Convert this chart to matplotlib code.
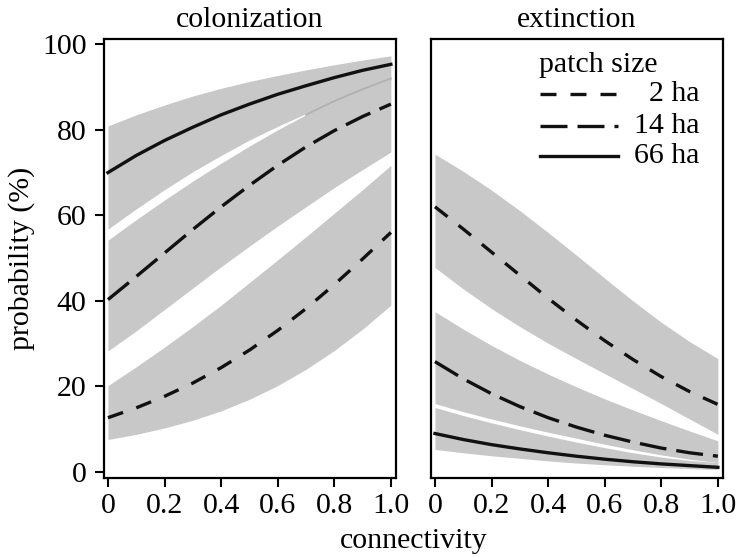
import matplotlib
matplotlib.use("Agg")
import matplotlib.pyplot as plt

plt.rcParams["font.family"] = ["Liberation Serif", "DejaVu Serif"]

# connectivity values where the curves were read
conn = [0.0, 0.1, 0.2, 0.3, 0.4, 0.5, 0.6, 0.7, 0.8, 0.9, 1.0]

# colonization probability (%) with confidence band
col_2_mean = [12.7, 15.0, 17.7, 20.8, 24.4, 28.5, 33.1, 38.2, 43.8, 49.8, 56.0]
col_2_low = [7.6, 8.8, 10.3, 12.1, 14.3, 17.0, 20.2, 24.0, 28.4, 33.4, 39.0]
col_2_up = [20.2, 24.6, 29.2, 34.0, 39.0, 44.3, 49.6, 55.0, 60.5, 66.0, 71.7]
col_14_mean = [40.3, 45.7, 51.2, 56.7, 62.0, 67.0, 71.7, 76.0, 79.8, 83.1, 86.0]
col_14_low = [28.3, 33.0, 38.0, 43.0, 48.0, 52.8, 57.5, 62.0, 66.5, 70.7, 74.8]
col_14_up = [54.2, 59.0, 63.6, 68.0, 72.2, 76.2, 80.0, 83.5, 86.7, 89.5, 92.0]
col_66_mean = [70.0, 74.0, 77.5, 80.6, 83.5, 86.0, 88.3, 90.3, 92.2, 93.9, 95.3]
col_66_low = [56.8, 61.5, 66.0, 70.2, 74.0, 77.6, 80.8, 83.8, 86.6, 89.2, 91.6]
col_66_up = [80.9, 83.5, 85.8, 87.9, 89.7, 91.3, 92.7, 94.0, 95.2, 96.3, 97.3]

# extinction probability (%) with confidence band
ext_2_mean = [62.0, 56.8, 51.4, 46.0, 40.6, 35.5, 30.7, 26.3, 22.3, 18.8, 15.8]
ext_2_low = [47.8, 42.8, 38.2, 34.0, 30.1, 26.5, 23.0, 19.5, 16.0, 12.4, 8.8]
ext_2_up = [74.3, 70.3, 65.9, 61.1, 56.0, 50.7, 45.3, 40.0, 35.0, 30.5, 26.5]
ext_14_mean = [25.8, 21.8, 18.3, 15.3, 12.7, 10.5, 8.6, 7.0, 5.6, 4.5, 3.7]
ext_14_low = [16.0, 14.1, 12.4, 10.8, 9.3, 7.9, 6.5, 5.2, 4.0, 3.0, 2.2]
ext_14_up = [37.5, 33.4, 29.6, 26.1, 22.9, 19.9, 17.1, 14.5, 12.0, 9.6, 7.3]
ext_66_mean = [9.0, 7.6, 6.4, 5.4, 4.5, 3.7, 3.0, 2.4, 1.9, 1.5, 1.1]
ext_66_low = [5.3, 4.5, 3.8, 3.2, 2.6, 2.1, 1.7, 1.35, 1.05, 0.8, 0.6]
ext_66_up = [15.1, 13.2, 11.5, 9.9, 8.4, 7.0, 5.7, 4.5, 3.5, 2.7, 2.2]

patch_labels = ["2 ha", "14 ha", "66 ha"]
x_ticks = [0, 0.2, 0.4, 0.6, 0.8, 1.0]
x_tick_labels = ["0", "0.2", "0.4", "0.6", "0.8", "1.0"]
y_ticks = [0, 20, 40, 60, 80, 100]

band_color = "#c8c8c8"
overlap_color = "#b0b0b0"
line_color = "#111111"
lw = 2.4
fs = 21.5
styles = [(0, (4.8, 4.2)), (0, (8.1, 3.0)), "-"]

panels = [
    ("colonization",
     [(col_2_mean, col_2_low, col_2_up),
      (col_14_mean, col_14_low, col_14_up),
      (col_66_mean, col_66_low, col_66_up)]),
    ("extinction",
     [(ext_2_mean, ext_2_low, ext_2_up),
      (ext_14_mean, ext_14_low, ext_14_up),
      (ext_66_mean, ext_66_low, ext_66_up)]),
]

fig = plt.figure(figsize=(7.36, 5.57), dpi=100)
ax1 = fig.add_axes([0.1413, 0.1418, 0.3967, 0.788])
ax2 = fig.add_axes([0.5856, 0.1418, 0.3967, 0.788])

for ax, (title, series) in zip([ax1, ax2], panels):
    # bands first, then the fitted curves on top
    for mean, low, up in series:
        ax.fill_between(conn, low, up, color=band_color, lw=0)
    if ax is ax1:
        # the 14 ha band edge shows faintly where it runs into the 66 ha band
        ax.plot(conn[7:], col_14_up[7:], color=overlap_color, lw=1.3)
    for (mean, low, up), ls in zip(series, styles):
        ax.plot(conn, mean, color=line_color, lw=lw, ls=ls, dash_capstyle="butt")

    ax.set_xlim(-0.014, 1.018)
    ax.set_ylim(-1.4, 101.2)
    ax.set_xticks(x_ticks)
    ax.set_xticklabels(x_tick_labels)
    ax.set_title(title, fontsize=fs, pad=9)
    for sp in ax.spines.values():
        sp.set_linewidth(1.6)
    ax.tick_params(axis="x", direction="out", length=6.5, width=1.5,
                   labelsize=fs, pad=4)

ax1.set_yticks(y_ticks)
ax1.tick_params(axis="y", direction="out", length=6.5, width=1.5,
                labelsize=fs, pad=6)
ax2.set_yticks([])

ax1.set_ylabel("probability (%)", fontsize=fs, labelpad=5)
fig.text(0.5622, 0.016, "connectivity", fontsize=fs, ha="center", va="baseline")

# legend drawn by hand so the labels can be right aligned
ax2.text(0.37, 0.925, "patch size", transform=ax2.transAxes, fontsize=fs,
         ha="left", va="baseline")
leg_y = [0.874, 0.802, 0.734]
for yy, ls, lab in zip(leg_y, styles, patch_labels):
    ax2.plot([0.373, 0.640], [yy, yy], transform=ax2.transAxes,
             color=line_color, lw=lw, ls=ls, dash_capstyle="butt")
    ax2.text(0.918, yy, lab, transform=ax2.transAxes, fontsize=fs,
             ha="right", va="center")

fig.savefig("out.png", dpi=100)
